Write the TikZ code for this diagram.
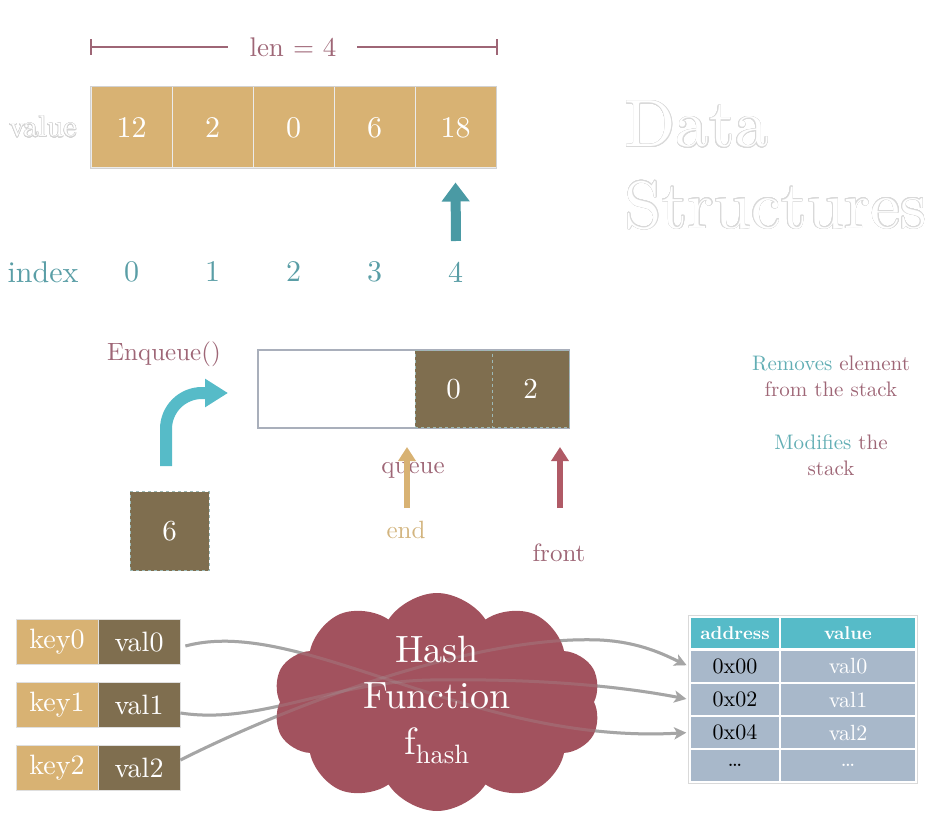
\documentclass[tikz,border=0pt]{standalone}
\usepackage{fontspec}
\setmainfont{lmroman10-regular}[Extension=.otf, BoldFont=lmroman10-bold, ItalicFont=lmroman10-italic]
\usepackage{contour}
\usetikzlibrary{arrows.meta,shapes.symbols}
\contourlength{0.5pt}
\contournumber{24}
\definecolor{tanc}{HTML}{D8B273}
\definecolor{brnc}{HTML}{7F6E4F}
\definecolor{mauvec}{HTML}{9E6676}
\definecolor{tealt}{HTML}{5A9EA6}
\definecolor{tealr}{HTML}{62AEB4}
\definecolor{tealA}{HTML}{4A9AA4}
\definecolor{tealB}{HTML}{56BBC8}
\definecolor{redA}{HTML}{B05A66}
\definecolor{cloudc}{HTML}{A2525E}
\definecolor{rowc}{HTML}{A8B8CA}
\definecolor{linec}{HTML}{A5A5A5}
\definecolor{qborder}{HTML}{A9AFBB}
\definecolor{dashc}{HTML}{9DB9B6}
\definecolor{endc}{HTML}{D2B47E}
\tikzset{
  cell/.style={draw=white!92!black, line width=1pt, fill=tanc, minimum width=81pt, minimum height=81pt, inner sep=0pt, text=white, font=\fontsize{30}{36}\selectfont},
  idx/.style={text=tealt, font=\fontsize{30}{36}\selectfont},
  qcell/.style={draw=dashc, dashed, line width=1pt, fill=brnc, minimum width=77pt, minimum height=77pt, inner sep=0pt, text=white, font=\fontsize{29}{34}\selectfont},
  lbl/.style={text=mauvec, font=\fontsize{25}{30}\selectfont},
  kcell/.style={draw=gray!25, line width=0.8pt, fill=tanc, minimum width=82pt, minimum height=45pt, inner sep=0pt, text=white, font=\fontsize{28}{34}\selectfont},
  vcell/.style={kcell, fill=brnc},
  hdr/.style={draw=white, line width=1.5pt, fill=tealB, minimum height=31pt, inner sep=0pt, text=white, font=\fontsize{18.5}{22}\selectfont\bfseries},
  trow/.style={draw=white, line width=1.5pt, fill=rowc, minimum height=33pt, inner sep=0pt, font=\fontsize{22}{26}\selectfont},
  hline/.style={draw=linec, line width=3pt, shorten >=3pt, -{Stealth[length=12pt,width=12pt,inset=3pt]}},
}
\begin{document}
\begin{tikzpicture}[x=1pt,y=-1pt]
\useasboundingbox (0,0) rectangle (927,824);

% ---------- array ----------
\foreach \v [count=\i from 0] in {12,2,0,6,18}
  \node[cell] (c\i) at (131.5+81*\i,127.5) {\v};
\draw[gray!35, line width=0.8pt] (c0.north west) rectangle (c4.south east);
\node[text=white, font=\fontsize{30}{36}\selectfont] (vlab) at (43,127) {\contour{gray!35}{value}};
\node[idx] (ilab) at (43,272) {index};
\foreach \i in {0,...,4}
  \node[idx] (i\i) at (131.5+81*\i,272) {\i};

% len bracket
\node[text=mauvec, font=\fontsize{27}{32}\selectfont] (len) at (293,47) {len = 4};
\coordinate (bl) at (91,47);
\coordinate (br) at (497,47);
\draw[mauvec, line width=1.2pt] (bl) -- (228,47) (357,47) -- (br);
\draw[mauvec, line width=1.2pt] ([yshift=-8]bl) -- ([yshift=8]bl) ([yshift=-8]br) -- ([yshift=8]br);

% pointer arrow
\coordinate (pa) at (456,241);
\draw[tealA, line width=10pt, -{Triangle[length=19pt,width=27pt]}] (pa) -- ([yshift=-14]c4.south);

% title
\node[anchor=base west, text=white, font=\fontsize{67}{80}\selectfont] (t1) at (621,147) {\contour{gray!30}{Data}};
\node[anchor=base west, text=white, font=\fontsize{67}{80}\selectfont] (t2) at (621,228) {\contour{gray!30}{Structures}};

% ---------- queue ----------
\node[draw=qborder, line width=1.5pt, minimum width=311pt, minimum height=78pt, inner sep=0pt] (qbox) at (413.5,389) {};
\node[qcell] (q0) at (453.5,389) {0};
\node[qcell] (q1) at (530.5,389) {2};
\node[qcell, minimum width=79pt, minimum height=79pt] (six) at (169.5,531) {6};
\node[lbl] (enq) at (164,354) {Enqueue()};
\coordinate (ca) at (166,466);
\coordinate (cb) at (228,393);
\draw[tealB, line width=12pt, rounded corners=36pt, -{Triangle[length=23pt,width=27pt]}] (ca) |- (cb);

\node[lbl] (qlab) at (413,470) {queue};
\node[text=endc, font=\fontsize{25}{30}\selectfont] (endl) at (406,530) {end};
\node[lbl] (frl) at (559,553) {front};
\coordinate (ea) at (407,508);
\coordinate (fa) at (560,508);
\draw[tanc, line width=6pt, -{Triangle[length=14pt,width=17pt]}] (ea) -- ([yshift=-19]ea |- q0.south);
\draw[redA, line width=6pt, -{Triangle[length=14pt,width=17pt]}] (fa) -- ([yshift=-19]fa |- q1.south);

\node[text=mauvec, align=center, font=\fontsize{21}{26}\selectfont] (rm) at (831,376) {\textcolor{tealr}{Removes} element\\from the stack};
\node[text=mauvec, align=center, font=\fontsize{21}{26}\selectfont] (md) at (831,455) {\textcolor{tealr}{Modifies} the\\stack};

% ---------- hash ----------
\foreach \r/\y in {0/642,1/705,2/768} {
  \node[kcell] (k\r) at (57,\y) {key\r};
  \node[vcell] (v\r) at (139,\y) {val\r};
}

% table
\node[hdr, minimum width=90pt] (ha) at (735,633) {address};
\node[hdr, minimum width=136pt] (hv) at (848,633) {value};
\foreach \a/\v/\y [count=\r from 0] in {0x00/val0/666.5,0x02/val1/699.5,0x04/val2/732.5,\dots/\dots/765.5} {
  \node[trow, minimum width=90pt, text=black] (a\r) at (735,\y) {\a};
  \node[trow, minimum width=136pt, text=white] (b\r) at (848,\y) {\v};
}
\draw[gray!30, line width=0.6pt] ([shift={(-1,-1)}]ha.north west) rectangle ([shift={(1,1)}]b3.south east);

\coordinate (s0) at ([shift={(5,4)}]v0.east);
\coordinate (s1) at ([shift={(0,8)}]v1.east);
\coordinate (s2) at ([shift={(0,-8)}]v2.east);
\coordinate (m1) at (430,680);
\coordinate (m2) at (600,640);

\draw[hline] (s0) .. controls (300,615) and (470,745) .. (a2.west);
\draw[hline] (s1) .. controls (260,725) and (330,682) .. (m1) .. controls (560,678) and (640,690) .. (a1.west);
\draw[hline] (s2) .. controls (300,700) and (480,635) .. (m2) .. controls (640,642) and (665,655) .. (a0.west);

\node[cloud, cloud puffs=10, cloud puff arc=115, aspect=1.5, fill=cloudc, minimum width=328pt, minimum height=218pt, inner sep=0pt] (cl) at (437,702) {};

\begin{scope}[opacity=0.25]
\draw[hline] (s0) .. controls (300,615) and (470,745) .. (a2.west);
\draw[hline] (s1) .. controls (260,725) and (330,682) .. (m1) .. controls (560,678) and (640,690) .. (a1.west);
\draw[hline] (s2) .. controls (300,700) and (480,635) .. (m2) .. controls (640,642) and (665,655) .. (a0.west);
\end{scope}

\node[text=white, align=center, font=\fontsize{38}{46}\selectfont] (ht) at (437,700) {Hash\\Function\\$\mathrm{f}_{\mathrm{hash}}$};
\end{tikzpicture}
\end{document}
